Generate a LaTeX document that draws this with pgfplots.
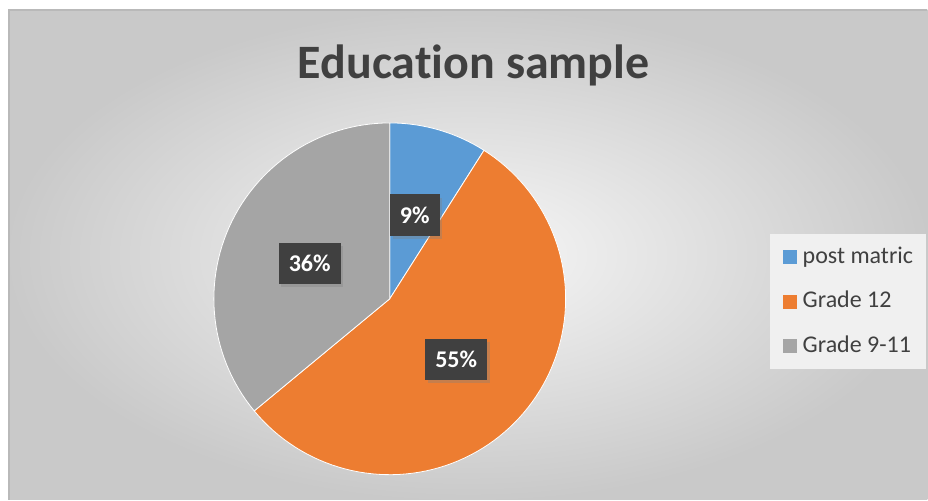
\documentclass[border=0pt]{standalone}
\usepackage{pgfplots}
\pgfplotsset{compat=1.18}
\usepackage{fontspec}
\setmainfont{Carlito}[Ligatures=NoCommon]
\usetikzlibrary{shadows}

\definecolor{cblue}{HTML}{5B9BD5}
\definecolor{corange}{HTML}{ED7D31}
\definecolor{cgrey}{HTML}{A5A5A5}
\definecolor{ctext}{HTML}{404040}

% shares in percent
\def\pa{9}   % post matric
\def\pb{55}  % Grade 12
\def\pc{36}  % Grade 9-11

\begin{document}
\begin{tikzpicture}[x=0.75pt,y=0.75pt,
    lbl/.style={fill=ctext, text=white, font=\fontsize{18}{20}\selectfont\bfseries,
        inner xsep=7.5pt, minimum height=31pt,
        drop shadow={shadow xshift=2pt, shadow yshift=-2.5pt, opacity=0.35}}]
\path (0,0) rectangle (928,500);
\shade[inner color=gray!6, outer color=gray!42] (9,0) rectangle (928,490);
\draw[gray!55, line width=0.9pt] (9,0) -- (9,490) -- (928,490);
\node[font=\fontsize{36}{40}\selectfont\bfseries, text=ctext] at (474,435) {Education sample};

\begin{axis}[
    at={(292.5pt,150.75pt)}, anchor=center,
    width=264pt, height=264pt, scale only axis,
    xmin=-1, xmax=1, ymin=-1, ymax=1,
    hide axis, clip=false,
    legend style={at={(1.5795,0.6847)}, anchor=north west,
        draw=none, fill=gray!12, font=\fontsize{18}{20}\selectfont, text=ctext,
        inner xsep=9.75pt, inner ysep=8.75pt, row sep=16.4pt, column sep=4.5pt,
        nodes={inner sep=0pt, text height=13pt, text depth=4pt}},
    legend cell align=left,
    legend image code/.code={\fill[#1,draw=none] (0pt,-5.25pt) rectangle (10.5pt,5.25pt);},
]
\addplot[fill=cblue, draw=white, line width=0.6pt, domain={90-3.6*\pa}:90, samples=30, variable=\t]
    ({cos(t)},{sin(t)}) -- (0,0) -- cycle;
\addplot[fill=corange, draw=white, line width=0.6pt, domain={90-3.6*(\pa+\pb)}:{90-3.6*\pa}, samples=90, variable=\t]
    ({cos(t)},{sin(t)}) -- (0,0) -- cycle;
\addplot[fill=cgrey, draw=white, line width=0.6pt, domain={90-3.6*(\pa+\pb+\pc)}:{90-3.6*(\pa+\pb)}, samples=60, variable=\t]
    ({cos(t)},{sin(t)}) -- (0,0) -- cycle;
\legend{post matric, Grade 12, Grade 9-11}

\node[lbl] at (axis cs:0.142,0.477) {9\%};
\node[lbl] at (axis cs:0.378,-0.344) {55\%};
\node[lbl] at (axis cs:-0.455,0.202) {36\%};
\end{axis}
\end{tikzpicture}
\end{document}
